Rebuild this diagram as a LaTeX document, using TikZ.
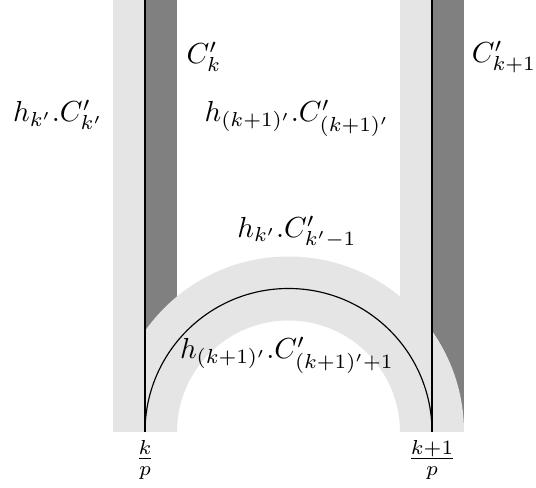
\documentclass[tikz,border=0pt]{standalone}
\begin{document}
\begin{tikzpicture}[x=0.345pt,y=0.345pt,
  lightfill/.style={fill=black!10,draw=none},
  darkfill/.style={fill=black!50,draw=none},
  lab/.style={inner sep=0pt,font=\normalsize}]
\useasboundingbox (0,0) rectangle (536,488);
% strips
\fill[lightfill] (113,56) rectangle (145,488);
\fill[darkfill] (145,56) rectangle (177,488);
\fill[lightfill] (400,56) rectangle (432,488);
\fill[darkfill] (432,56) rectangle (464,488);
% annulus
\fill[lightfill] (113,56) arc[start angle=180,end angle=0,radius=175.5]
  -- (400,56) arc[start angle=0,end angle=180,radius=111.5] -- cycle;
% lines
\coordinate (lt) at (145,488);
\coordinate (lb) at (145,56);
\coordinate (rt) at (432,488);
\coordinate (rb) at (432,56);
\draw[line width=0.4pt] (lt) -- (lb);
\draw[line width=0.4pt] (rt) -- (rb);
\draw[line width=0.4pt] (lb) arc[start angle=180,end angle=0,radius=143.5];
% labels
\node[lab] (ck) at (204,431) {$C'_k$};
\node[lab] (ck1) at (504,431) {$C'_{k+1}$};
\node[lab] (hk) at (58,373) {$h_{k'}.C'_{k'}$};
\node[lab] (hk1) at (297,370) {$h_{(k+1)'}.C'_{(k+1)'}$};
\node[lab] (hkm) at (297,256) {$h_{k'}.C'_{k'-1}$};
\node[lab] (hkp) at (287,133) {$h_{(k+1)'}.C'_{(k+1)'+1}$};
\node[lab] (fk) at (145,28) {$\frac{k}{p}$};
\node[lab] (fk1) at (432,28) {$\frac{k+1}{p}$};
\end{tikzpicture}
\end{document}
